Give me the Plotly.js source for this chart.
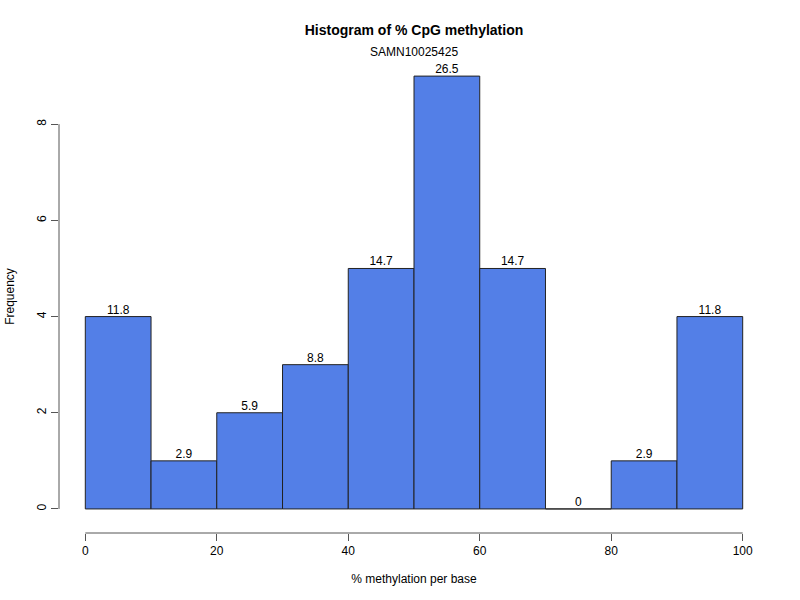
<!DOCTYPE html>
<html><head><meta charset="utf-8">
<script src="https://cdn.plot.ly/plotly-3.0.1.min.js"></script>
<style>html,body{margin:0;padding:0;background:#fff}#c{width:800px;height:600px}</style>
</head><body><div id="c"></div>
<script>
const binStarts = [0,10,20,30,40,50,60,70,80,90];
const binWidth = 10;
const counts = [4,1,2,3,5,9,5,0,1,4];
const pctLabels = ["11.8","2.9","5.9","8.8","14.7","26.5","14.7","0","2.9","11.8"];
const xTicks = [0,20,40,60,80,100];
const yTicks = [0,2,4,6,8];

const mids = binStarts.map(s => s + binWidth/2);
const font = {family: 'Liberation Sans, Arial, sans-serif', color: '#000'};

const traces = [
  {type:'bar', x: mids, y: counts, width: binWidth,
   marker:{color:'#537FE7', line:{color:'#222', width:1}}, hoverinfo:'none'},
  {type:'scatter', mode:'text', x: mids, y: counts, text: pctLabels,
   textposition:'top center', textfont:{family:font.family, size:12, color:'#000'}, hoverinfo:'none'}
];

const layout = {
  width:800, height:600,
  margin:{l:59, r:31, t:60, b:67},
  showlegend:false,
  paper_bgcolor:'#fff', plot_bgcolor:'#fff',
  font: font,
  title:{text:'<b>Histogram of % CpG methylation</b>', font:{family:font.family, size:14, color:'#000'},
         x:0.5, xref:'paper', y:1-30/600, yanchor:'middle'},
  xaxis:{range:[-4,104], showgrid:false, zeroline:false, showline:false,
         tickmode:'array', tickvals:xTicks, ticks:'outside', ticklen:7, tickcolor:'#555',
         tickfont:{family:font.family, size:12, color:'#000'},
         title:{text:'% methylation per base', font:{family:font.family, size:12, color:'#000'}, standoff:17}},
  yaxis:{range:[-0.5, 449/48.1], showgrid:false, zeroline:false, showline:false,
         tickmode:'array', tickvals:yTicks, ticks:'outside', ticklen:7, tickcolor:'#555',
         tickangle:-90,
         tickfont:{family:font.family, size:12, color:'#000'},
         title:{text:'Frequency', font:{family:font.family, size:12, color:'#000'}, standoff:18}},
  shapes:[
    {type:'line', xref:'paper', yref:'y', x0:0, x1:0, y0:yTicks[0], y1:yTicks[yTicks.length-1], line:{color:'#555', width:1}},
    {type:'line', xref:'x', yref:'paper', x0:xTicks[0], x1:xTicks[xTicks.length-1], y0:0, y1:0, line:{color:'#555', width:1}}
  ],
  annotations:[
    {text:'SAMN10025425', xref:'paper', yref:'paper', x:0.5, y:1+8/473, yanchor:'middle', showarrow:false,
     font:{family:font.family, size:12, color:'#000'}}
  ]
};
Plotly.newPlot('c', traces, layout, {staticPlot:true, displayModeBar:false});
</script></body></html>
